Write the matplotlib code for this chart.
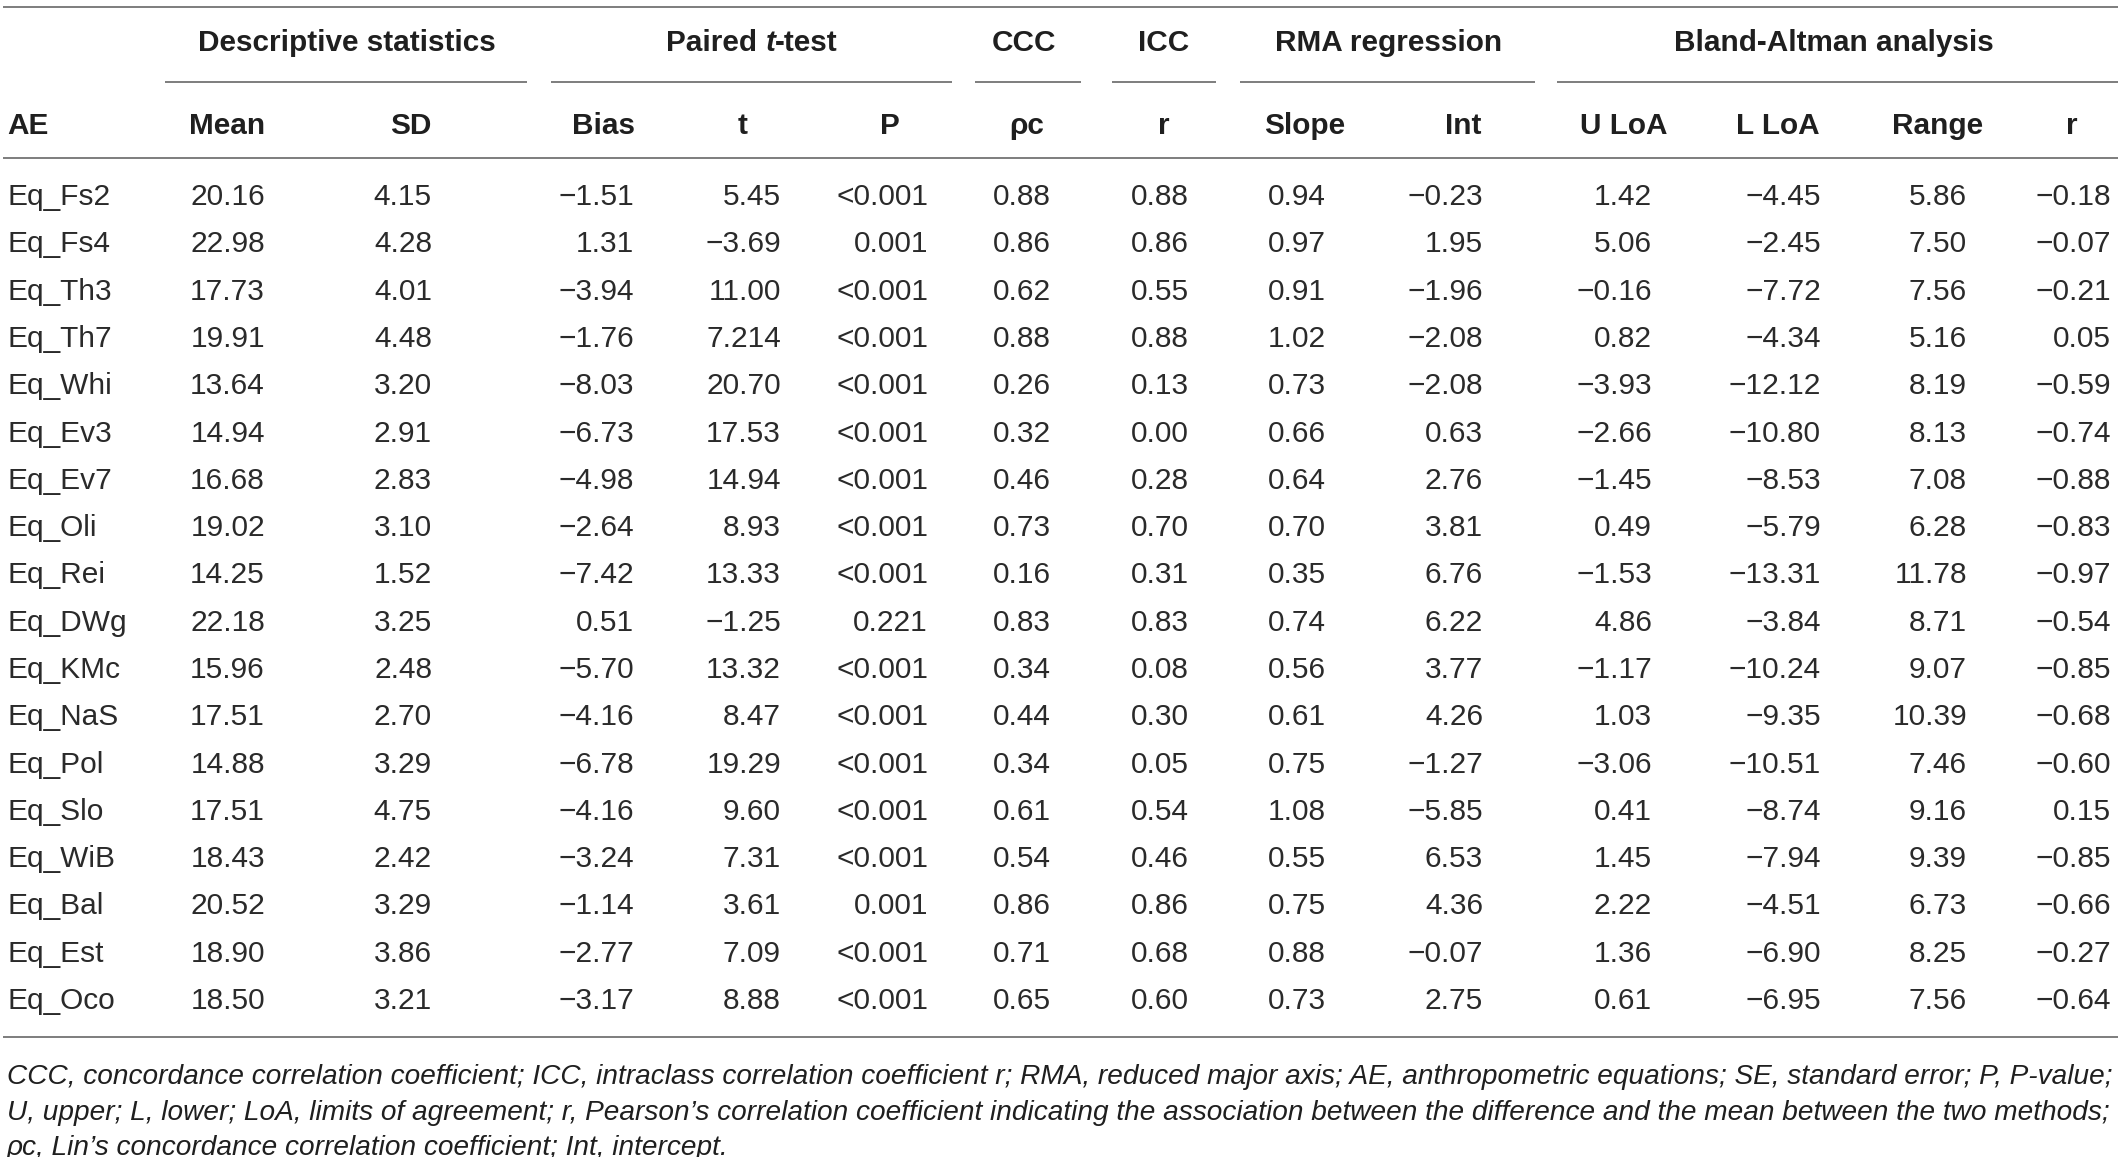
import matplotlib
matplotlib.use("Agg")
import matplotlib.pyplot as plt
from matplotlib import font_manager as fm

# ---------------- data ----------------
ae = ['Eq_Fs2', 'Eq_Fs4', 'Eq_Th3', 'Eq_Th7', 'Eq_Whi', 'Eq_Ev3', 'Eq_Ev7', 'Eq_Oli', 'Eq_Rei',
      'Eq_DWg', 'Eq_KMc', 'Eq_NaS', 'Eq_Pol', 'Eq_Slo', 'Eq_WiB', 'Eq_Bal', 'Eq_Est', 'Eq_Oco']
mean = ['20.16', '22.98', '17.73', '19.91', '13.64', '14.94', '16.68', '19.02', '14.25',
        '22.18', '15.96', '17.51', '14.88', '17.51', '18.43', '20.52', '18.90', '18.50']
sd = ['4.15', '4.28', '4.01', '4.48', '3.20', '2.91', '2.83', '3.10', '1.52',
      '3.25', '2.48', '2.70', '3.29', '4.75', '2.42', '3.29', '3.86', '3.21']
bias = [-1.51, 1.31, -3.94, -1.76, -8.03, -6.73, -4.98, -2.64, -7.42,
        0.51, -5.70, -4.16, -6.78, -4.16, -3.24, -1.14, -2.77, -3.17]
t_val = ['5.45', '\u22123.69', '11.00', '7.214', '20.70', '17.53', '14.94', '8.93', '13.33',
         '\u22121.25', '13.32', '8.47', '19.29', '9.60', '7.31', '3.61', '7.09', '8.88']
p_val = ['<0.001', '0.001', '<0.001', '<0.001', '<0.001', '<0.001', '<0.001', '<0.001', '<0.001',
         '0.221', '<0.001', '<0.001', '<0.001', '<0.001', '<0.001', '0.001', '<0.001', '<0.001']
ccc = [0.88, 0.86, 0.62, 0.88, 0.26, 0.32, 0.46, 0.73, 0.16, 0.83, 0.34, 0.44, 0.34, 0.61, 0.54, 0.86, 0.71, 0.65]
icc = [0.88, 0.86, 0.55, 0.88, 0.13, 0.00, 0.28, 0.70, 0.31, 0.83, 0.08, 0.30, 0.05, 0.54, 0.46, 0.86, 0.68, 0.60]
slope = [0.94, 0.97, 0.91, 1.02, 0.73, 0.66, 0.64, 0.70, 0.35, 0.74, 0.56, 0.61, 0.75, 1.08, 0.55, 0.75, 0.88, 0.73]
intercept = [-0.23, 1.95, -1.96, -2.08, -2.08, 0.63, 2.76, 3.81, 6.76, 6.22, 3.77, 4.26, -1.27, -5.85, 6.53, 4.36, -0.07, 2.75]
u_loa = [1.42, 5.06, -0.16, 0.82, -3.93, -2.66, -1.45, 0.49, -1.53, 4.86, -1.17, 1.03, -3.06, 0.41, 1.45, 2.22, 1.36, 0.61]
l_loa = [-4.45, -2.45, -7.72, -4.34, -12.12, -10.80, -8.53, -5.79, -13.31, -3.84, -10.24, -9.35, -10.51, -8.74,
         -7.94, -4.51, -6.90, -6.95]
ba_range = [5.86, 7.50, 7.56, 5.16, 8.19, 8.13, 7.08, 6.28, 11.78, 8.71, 9.07, 10.39, 7.46, 9.16, 9.39, 6.73, 8.25, 7.56]
r_ba = [-0.18, -0.07, -0.21, 0.05, -0.59, -0.74, -0.88, -0.83, -0.97, -0.54, -0.85, -0.68, -0.60, 0.15, -0.85,
        -0.66, -0.27, -0.64]

group_headers = ['Descriptive statistics', None, 'CCC', 'ICC', 'RMA regression', 'Bland-Altman analysis']
col_headers = ['AE', 'Mean', 'SD', 'Bias', 't', 'P', '\u03c1c', 'r', 'Slope', 'Int',
               'U LoA', 'L LoA', 'Range', 'r']
footnote = [
    'CCC, concordance correlation coefficient; ICC, intraclass correlation coefficient r; RMA, reduced major axis; '
    'AE, anthropometric equations; SE, standard error; P, P-value;',
    'U, upper; L, lower; LoA, limits of agreement; r, Pearson\u2019s correlation coefficient indicating the '
    'association between the difference and the mean between the two methods;',
    '\u03c1c, Lin\u2019s concordance correlation coefficient; Int, intercept.',
]


def fmt(v):
    if isinstance(v, str):
        return v
    return '{:.2f}'.format(v).replace('-', '\u2212')


columns = [mean, sd, bias, t_val, p_val, ccc, icc, slope, intercept, u_loa, l_loa, ba_range, r_ba]

# ---------------- layout (pixel space) ----------------
W, H = 2118, 1157
DPI = 100
TXT = '#1f1f1f'
DATA_TXT = '#2a2a2a'
LINE = '#7d7d7d'

fig = plt.figure(figsize=(W / DPI, H / DPI), dpi=DPI)
ax = fig.add_axes([0, 0, 1, 1])
ax.set_xlim(0, W)
ax.set_ylim(H, 0)
ax.axis('off')
renderer = fig.canvas.get_renderer()


def has_font(name):
    try:
        fm.findfont(fm.FontProperties(family=name), fallback_to_default=False)
        return True
    except Exception:
        return False


narrow = has_font('Liberation Sans Narrow')
BASE = 'Liberation Sans'
HEAD = 'Liberation Sans Narrow' if narrow else 'Liberation Sans'
DATA_SIZE = 21.5


def width_of(s, **kw):
    tt = ax.text(0, 0, s, **kw)
    bb = tt.get_window_extent(renderer=renderer)
    tt.remove()
    return bb.width


# header size fitted to the width of "Descriptive statistics"
probe = width_of('Descriptive statistics', family=[HEAD, 'DejaVu Sans'], fontsize=20, fontweight='bold')
HEAD_SIZE = 20 * 297.0 / probe
head_cap = HEAD_SIZE / 72 * DPI * 0.716
data_cap = DATA_SIZE / 72 * DPI * 0.716

# horizontal rules
ax.hlines([7, 158, 1037], 3, W, color=LINE, lw=1.4)
group_spans = [(165, 527), (551, 952), (975, 1081), (1112, 1216), (1240, 1535), (1557, W)]
for x0, x1 in group_spans:
    ax.hlines(82, x0, x1, color=LINE, lw=1.4)

# group headers
group_centers = [347, 752, 1024, 1164, 1389, 1834]
gy = 40.5 + head_cap / 2
hkw = dict(family=[HEAD, 'DejaVu Sans'], fontsize=HEAD_SIZE, fontweight='bold', color=TXT, va='baseline')
for gx, g in zip(group_centers, group_headers):
    if g is None:
        pieces = [('Paired ', 'normal'), ('t', 'italic'), ('-test', 'normal')]
        widths = [width_of(s, family=[HEAD, 'DejaVu Sans'], fontsize=HEAD_SIZE, fontweight='bold', style=st)
                  for s, st in pieces]
        x = gx - sum(widths) / 2
        for (s, st), w in zip(pieces, widths):
            ax.text(x, gy, s, ha='left', style=st, **hkw)
            x += w
    else:
        ax.text(gx, gy, g, ha='center', **hkw)

# column headers
col_centers = [None, 227, 411, 604, 743, 890, 1027, 1164, 1305, 1463, 1624, 1778, 1938, 2072]
hy = 123 + head_cap / 2
for cx, h in zip(col_centers, col_headers):
    if cx is None:
        ax.text(7, hy, h, ha='left', **hkw)
    else:
        ax.text(cx, hy, h, ha='center', **hkw)

# body rows
value_right = [265, 432, 634, 781, 928, 1051, 1189, 1326, 1483, 1652, 1821, 1967, 2111]
row0, row_step = 194.5, 47.28
dkw = dict(family=[BASE, 'DejaVu Sans'], fontsize=DATA_SIZE, color=DATA_TXT, va='baseline')
for i, name in enumerate(ae):
    y = row0 + i * row_step + data_cap / 2
    ax.text(7, y, name, ha='left', **dkw)
    for xr, col in zip(value_right, columns):
        ax.text(xr, y, fmt(col[i]), ha='right', **dkw)

# footnote
fkw = dict(family=[HEAD, 'DejaVu Sans'], style='italic', color=TXT, va='baseline')
probe = width_of(footnote[0], fontsize=20, **fkw)
FOOT_SIZE = 20 * 2104.0 / probe
foot_cap = FOOT_SIZE / 72 * DPI * 0.716
for fy, line in zip([1074, 1110, 1145], footnote):
    ax.text(7, fy + foot_cap / 2, line, ha='left', fontsize=FOOT_SIZE, **fkw)

fig.savefig('out.png', dpi=DPI, facecolor='white')
